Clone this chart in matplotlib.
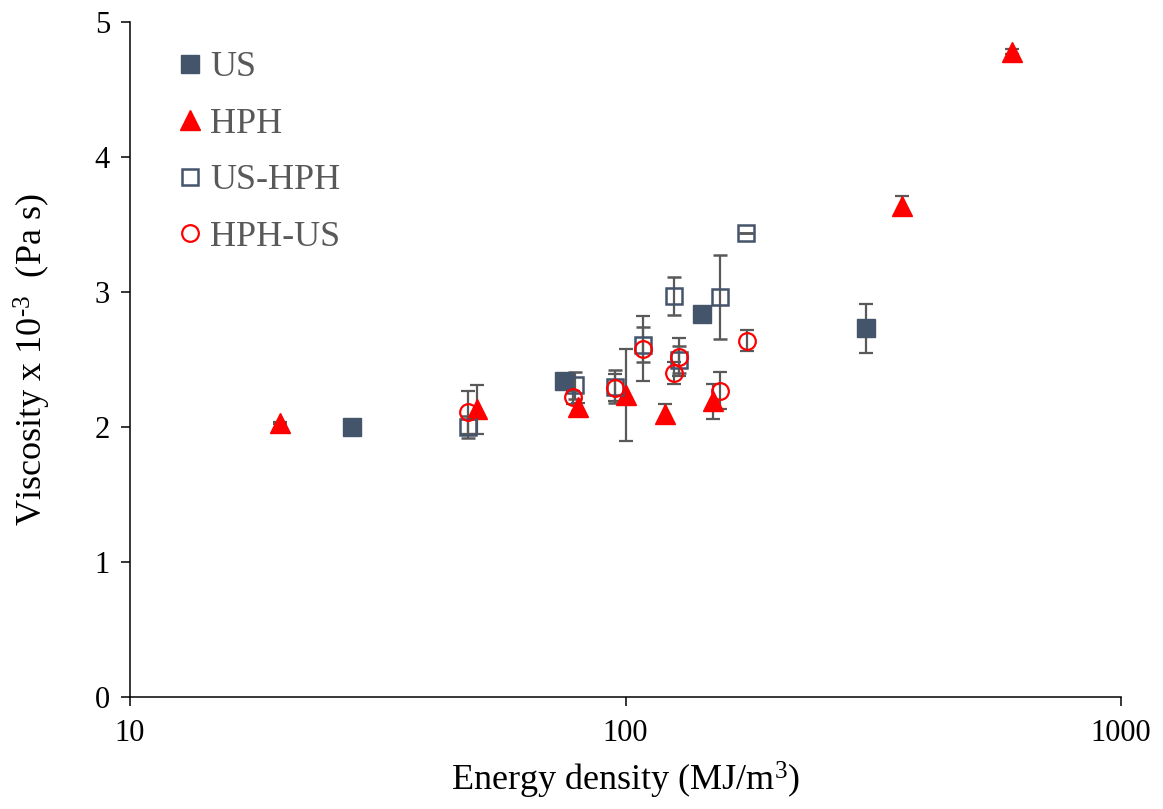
import matplotlib
matplotlib.use("Agg")
import matplotlib.pyplot as plt

plt.rcParams['font.family'] = ['Liberation Serif', 'DejaVu Serif']
plt.rcParams['mathtext.fontset'] = 'custom'
plt.rcParams['mathtext.rm'] = 'Liberation Serif'
plt.rcParams['mathtext.default'] = 'regular'

# US
us_x = [28.1, 75.2, 143, 306]
us_y = [2.00, 2.34, 2.84, 2.73]
us_err = [0, 0, 0, 0.18]

# HPH
hph_x = [20.1, 50.1, 80.2, 100, 120.2, 150.4, 361, 603]
hph_y = [2.03, 2.13, 2.15, 2.24, 2.10, 2.19, 3.64, 4.78]
hph_err = [0.01, 0.18, 0.03, 0.34, 0.07, 0.13, 0.07, 0.02]

# US-HPH
ushph_x = [48.2, 79.1, 95.3, 108.3, 125.5, 128.4, 155.1, 175.1]
ushph_y = [2.00, 2.31, 2.30, 2.61, 2.97, 2.50, 2.965, 3.44]
ushph_err = [0.08, 0.10, 0.12, 0.13, 0.14, 0.10, 0.31, 0]

# HPH-US
hphus_x = [48.2, 78.3, 95.3, 108.3, 125.5, 128.4, 155.1, 175.6]
hphus_y = [2.11, 2.22, 2.29, 2.58, 2.40, 2.52, 2.27, 2.64]
hphus_err = [0.16, 0.05, 0.10, 0.24, 0.08, 0.14, 0.14, 0.08]

navy = "#44546A"
errc = "#595959"

fig = plt.figure(figsize=(11.63, 8.09), dpi=100)
ax = fig.add_axes([0.1118, 0.1384, 0.8521, 0.8344])

ekw = dict(ecolor=errc, elinewidth=1.6, capsize=5, capthick=1.6, linestyle='none')

ax.errorbar(us_x, us_y, yerr=us_err, marker='s', ms=13, mfc=navy, mec=navy, label='US', **ekw)
ax.errorbar(hph_x, hph_y, yerr=hph_err, marker='^', ms=14, mfc='#FF0000', mec='#FF0000', label='HPH', **ekw)
ax.errorbar(ushph_x, ushph_y, yerr=ushph_err, marker='s', ms=12, mfc='none', mec=navy, mew=1.8,
            label='US-HPH', **ekw)
ax.errorbar(hphus_x, hphus_y, yerr=hphus_err, marker='o', ms=12, mfc='none', mec='#FF0000', mew=1.6,
            label='HPH-US', **ekw)

ax.set_xscale('log')
ax.set_xlim(10, 1000)
ax.set_ylim(0, 5)
ax.set_yticks([0, 1, 2, 3, 4, 5])
ax.set_xticks([10, 100, 1000])
ax.set_xticklabels(['10', '100', '1000'])
ax.minorticks_off()
ax.tick_params(axis='both', labelsize=22, color='black', length=6.5, width=1.1, direction='out')
ax.tick_params(axis='x', pad=9)
ax.tick_params(axis='y', pad=8)

for s in ['top', 'right']:
    ax.spines[s].set_visible(False)
for s in ['left', 'bottom']:
    ax.spines[s].set_linewidth(1.1)

ax.set_xlabel('Energy density (MJ/m$^{3}$)', fontsize=26, labelpad=9)
ax.set_ylabel(r'Viscosity x 10$^{\text{-3}}$  (Pa s)', fontsize=26, labelpad=30)

handles, labels = ax.get_legend_handles_labels()
handles = [h[0] for h in handles]
leg = ax.legend(handles, labels, loc='upper left', bbox_to_anchor=(0.017, 1.005), frameon=False,
                fontsize=26, handlelength=0.6, handletextpad=0.25, labelspacing=0.64,
                markerscale=1.0)
for t in leg.get_texts():
    t.set_color('#595959')

fig.savefig('out.png', dpi=100)
